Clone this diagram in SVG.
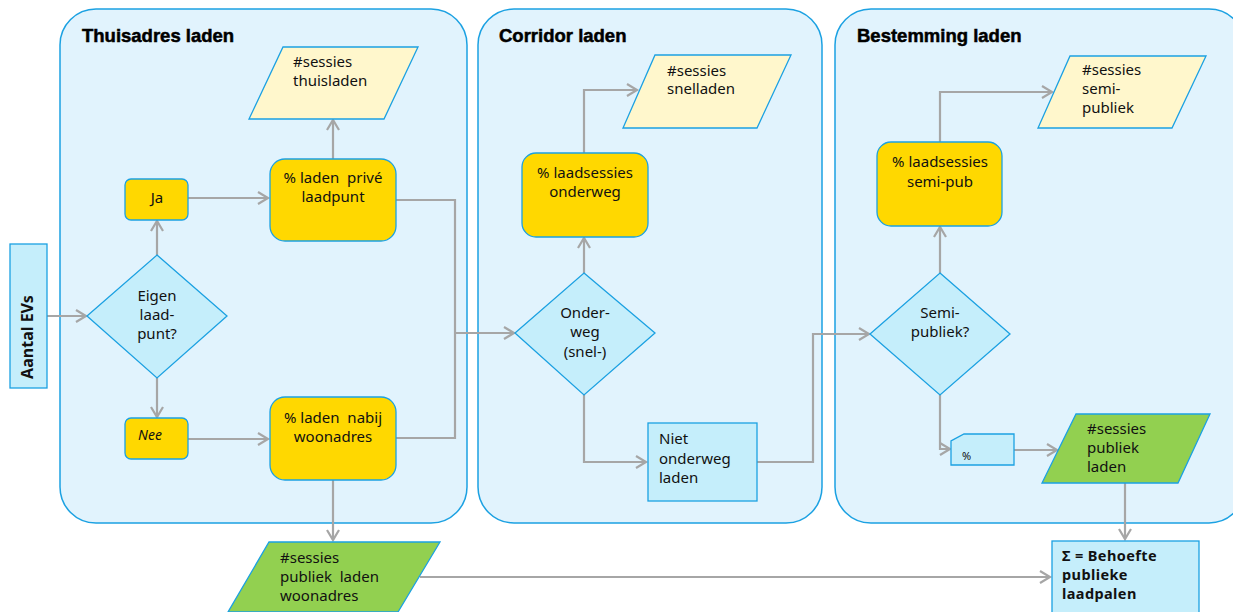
<svg xmlns="http://www.w3.org/2000/svg" width="1233" height="612" viewBox="0 0 1233 612">
<style>
.panel{fill:#E1F3FD;stroke:#1BA1E2;stroke-width:1.5}
.title{font-family:"Liberation Sans",Arial,sans-serif;font-weight:bold;font-size:18.5px;fill:#000;stroke:#000;stroke-width:0.5}
.t{font-family:"Noto Sans","DejaVu Sans",sans-serif;font-size:15px;fill:#111}
.tb{font-family:"Noto Sans","DejaVu Sans",sans-serif;font-size:14.5px;font-weight:bold;letter-spacing:0.4px;fill:#111}
.yel{fill:#FFD800;stroke:#1BA1E2;stroke-width:1.3}
.lyel{fill:#FFF7CC;stroke:#1BA1E2;stroke-width:1.3}
.grn{fill:#92D050;stroke:#1BA1E2;stroke-width:1.3}
.lb{fill:#C5EEFB;stroke:#1BA1E2;stroke-width:1.3}
.c{fill:none;stroke:#A6A6A6;stroke-width:2.2}
.a{marker-end:url(#arr)}
</style>
<defs>
<marker id="arr" markerUnits="userSpaceOnUse" markerWidth="14" markerHeight="16" refX="11" refY="7" orient="auto">
<path d="M1,1 L11,7 L1,13" fill="none" stroke="#A6A6A6" stroke-width="2.2"/>
</marker>
</defs>

<g id="panel-thuis">
<rect class="panel" x="60" y="9" width="407" height="514" rx="36"/>
<text class="title" x="82" y="42">Thuisadres laden</text>
</g>
<g id="panel-corridor">
<rect class="panel" x="478" y="9" width="344" height="514" rx="36"/>
<text class="title" x="499" y="42">Corridor laden</text>
</g>
<g id="panel-bestemming">
<rect class="panel" x="835" y="9" width="410" height="514" rx="36"/>
<text class="title" x="857" y="42">Bestemming laden</text>
</g>

<g id="connectors">
<path class="c a" d="M47,316 L86,316"/>
<path class="c a" d="M157,255 L157,221"/>
<path class="c a" d="M188,198 L268,198"/>
<path class="c a" d="M333,159 L333,120"/>
<path class="c" d="M396,200 L455,200 L455,438 L396,438"/>
<path class="c a" d="M455,333 L514,333"/>
<path class="c a" d="M157,378 L157,417"/>
<path class="c a" d="M188,439 L268,439"/>
<path class="c a" d="M333,480 L333,540"/>
<path class="c a" d="M420,577 L1050,577"/>
<path class="c a" d="M584,273 L584,238"/>
<path class="c a" d="M584,153 L584,90 L637,90"/>
<path class="c a" d="M584,395 L584,462 L646,462"/>
<path class="c a" d="M757,462 L813,462 L813,334 L869,334"/>
<path class="c a" d="M940,273 L940,227"/>
<path class="c a" d="M940,142 L940,92 L1052,92"/>
<path class="c a" d="M940,395 L940,449 L950,449"/>
<path class="c a" d="M1014,450 L1057,450"/>
<path class="c a" d="M1125,483 L1125,539"/>
</g>

<g id="aantal-evs">
<rect class="lb" x="10" y="244" width="37" height="144"/>
<text class="tb" transform="translate(33,337) rotate(-90)" text-anchor="middle" style="font-size:16px;letter-spacing:0">Aantal EVs</text>
</g>

<g id="eigen-laadpunt">
<polygon class="lb" points="157,255 227,316 157,378 87,316"/>
<text class="t" text-anchor="middle"><tspan x="157" y="301">Eigen</tspan><tspan x="157" y="320">laad-</tspan><tspan x="157" y="339">punt?</tspan></text>
</g>

<g id="ja">
<rect class="yel" x="125" y="179" width="63" height="41" rx="6"/>
<text class="t" x="157" y="203" text-anchor="middle">Ja</text>
</g>

<g id="nee">
<rect class="yel" x="125" y="418" width="63" height="41" rx="6"/>
<text class="t" x="138" y="440" style="font-style:italic;font-size:14px">Nee</text>
</g>

<g id="laden-prive">
<rect class="yel" x="270" y="159" width="126" height="82" rx="15"/>
<text class="t" text-anchor="middle"><tspan x="333" y="183">% laden&#160; privé</tspan><tspan x="333" y="202">laadpunt</tspan></text>
</g>

<g id="sessies-thuisladen">
<polygon class="lyel" points="283,47 418,47 384,119 249,119"/>
<text class="t"><tspan x="293" y="67">#sessies</tspan><tspan x="293" y="86">thuisladen</tspan></text>
</g>

<g id="laden-nabij">
<rect class="yel" x="270" y="397" width="126" height="83" rx="15"/>
<text class="t" text-anchor="middle"><tspan x="333" y="423">% laden&#160; nabij</tspan><tspan x="333" y="442">woonadres</tspan></text>
</g>

<g id="sessies-publiek-woonadres">
<polygon class="grn" points="269,542 440,542 398,612 228,612"/>
<text class="t"><tspan x="280" y="563">#sessies</tspan><tspan x="280" y="582">publiek&#160; laden</tspan><tspan x="280" y="601">woonadres</tspan></text>
</g>

<g id="onderweg">
<polygon class="lb" points="584,273 655,333 584,395 515,333"/>
<text class="t" text-anchor="middle"><tspan x="585" y="318">Onder-</tspan><tspan x="585" y="337">weg</tspan><tspan x="585" y="357">(snel-)</tspan></text>
</g>

<g id="laadsessies-onderweg">
<rect class="yel" x="522" y="153" width="126" height="84" rx="14"/>
<text class="t" text-anchor="middle"><tspan x="585" y="178">% laadsessies</tspan><tspan x="585" y="197">onderweg</tspan></text>
</g>

<g id="sessies-snelladen">
<polygon class="lyel" points="655,55 791,55 757,128 623,128"/>
<text class="t"><tspan x="667" y="76">#sessies</tspan><tspan x="667" y="94">snelladen</tspan></text>
</g>

<g id="niet-onderweg">
<rect class="lb" x="648" y="423" width="109" height="78"/>
<text class="t"><tspan x="659" y="444">Niet</tspan><tspan x="659" y="464">onderweg</tspan><tspan x="659" y="483">laden</tspan></text>
</g>

<g id="semi-publiek">
<polygon class="lb" points="940,273 1010,334 940,395 870,334"/>
<text class="t" text-anchor="middle"><tspan x="940" y="318">Semi-</tspan><tspan x="940" y="337">publiek?</tspan></text>
</g>

<g id="laadsessies-semipub">
<rect class="yel" x="877" y="142" width="125" height="84" rx="14"/>
<text class="t" text-anchor="middle"><tspan x="940" y="167">% laadsessies</tspan><tspan x="940" y="187">semi-pub</tspan></text>
</g>

<g id="sessies-semipubliek">
<polygon class="lyel" points="1070,56 1206,56 1172,128 1038,128"/>
<text class="t"><tspan x="1082" y="75">#sessies</tspan><tspan x="1082" y="94">semi-</tspan><tspan x="1082" y="113">publiek</tspan></text>
</g>

<g id="percent">
<polygon class="lb" points="964,434 1014,434 1014,465 951,465 951,441"/>
<text class="t" x="962" y="460" style="font-size:11px">%</text>
</g>

<g id="sessies-publiek-laden">
<polygon class="grn" points="1076,414 1210,414 1178,483 1042,483"/>
<text class="t"><tspan x="1087" y="434">#sessies</tspan><tspan x="1087" y="453">publiek</tspan><tspan x="1087" y="472">laden</tspan></text>
</g>

<g id="behoefte">
<rect class="lb" x="1052" y="541" width="147" height="80"/>
<text class="tb"><tspan x="1062" y="561">Σ = Behoefte</tspan><tspan x="1062" y="580">publieke</tspan><tspan x="1062" y="599">laadpalen</tspan></text>
</g>
</svg>
